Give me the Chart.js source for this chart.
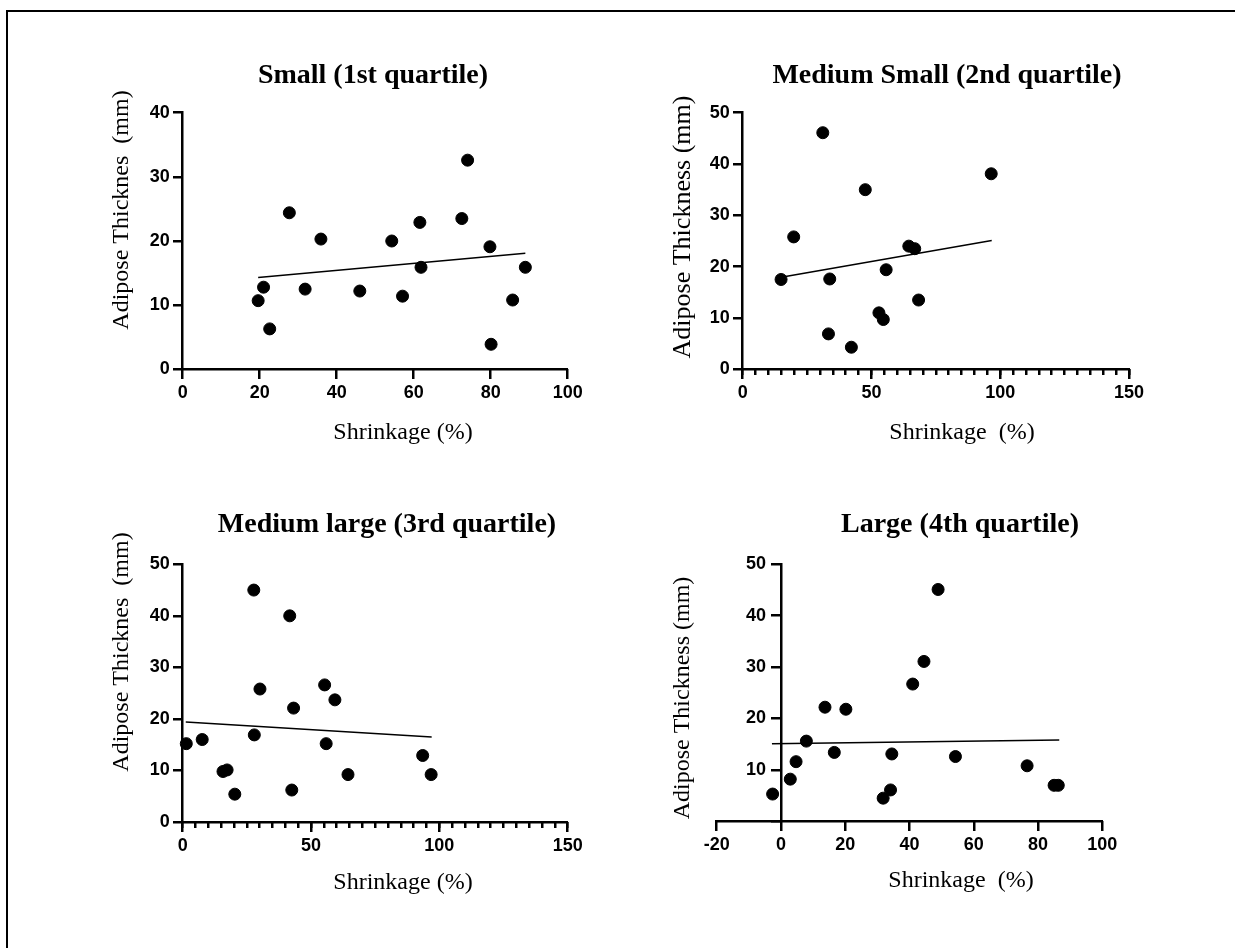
<!DOCTYPE html>
<html>
<head>
<meta charset="utf-8">
<script src="https://cdn.jsdelivr.net/npm/chart.js@4.4.1/dist/chart.umd.min.js"></script>
<style>
  html, body { margin: 0; padding: 0; background: #fff; }
  #page { position: relative; width: 1235px; height: 948px; overflow: hidden; background: #fff; }
  #frame { position: absolute; left: 6px; top: 10px; width: 1240px; height: 950px; border-top: 2px solid #000; border-left: 2px solid #000; }
  #page canvas { position: absolute; left: 0; top: 0; }
</style>
</head>
<body>
<div id="page">
  <div id="frame"></div>
  <canvas id="q1" width="1235" height="948"></canvas>
  <canvas id="q2" width="1235" height="948"></canvas>
  <canvas id="q3" width="1235" height="948"></canvas>
  <canvas id="q4" width="1235" height="948"></canvas>
</div>
<script>
// Small (1st quartile)
const smallX = [19.6, 21.0, 22.6, 27.7, 31.8, 35.9, 46.0, 54.3, 57.1, 61.6, 61.9, 72.5, 74.0, 79.8, 80.1, 85.7, 89.0]
const smallY = [10.7, 12.8, 6.3, 24.4, 12.5, 20.3, 12.2, 20.0, 11.4, 22.9, 15.9, 23.5, 32.6, 19.1, 3.9, 10.8, 15.9]
const smallFitX = [19.6, 89.0]
const smallFitY = [14.3, 18.1]

// Medium Small (2nd quartile)
const medSmallX = [14.9, 19.8, 31.1, 33.8, 33.3, 42.2, 47.6, 52.9, 54.6, 55.7, 64.5, 66.8, 68.3, 96.5]
const medSmallY = [17.5, 25.8, 46.1, 17.6, 6.9, 4.3, 35.0, 11.0, 9.7, 19.4, 24.0, 23.5, 13.5, 38.1]
const medSmallFitX = [15.5, 96.7]
const medSmallFitY = [18.0, 25.1]

// Medium large (3rd quartile)
const medLargeX = [1.4, 7.6, 15.7, 17.3, 20.3, 27.7, 27.9, 30.1, 41.7, 42.5, 43.2, 55.3, 55.9, 59.3, 64.4, 93.5, 96.8]
const medLargeY = [15.2, 16.0, 9.8, 10.1, 5.4, 45.0, 16.9, 25.8, 40.0, 6.2, 22.1, 26.6, 15.2, 23.7, 9.2, 12.9, 9.2]
const medLargeFitX = [1.2, 97.0]
const medLargeFitY = [19.4, 16.5]

// Large (4th quartile)
const largeX = [-2.6, 2.9, 4.7, 7.9, 13.7, 16.6, 20.2, 31.8, 34.1, 34.5, 41.0, 44.5, 48.9, 54.3, 76.6, 85.0, 86.3]
const largeY = [5.3, 8.2, 11.6, 15.6, 22.2, 13.4, 21.8, 4.5, 6.1, 13.1, 26.7, 31.1, 45.1, 12.6, 10.8, 7.0, 7.0]
const largeFitX = [-2.8, 86.6]
const largeFitY = [15.1, 15.8]

const W = 1235
const H = 948
const Y_W = 40
const X_H = 40
const TICK_LEN = 10
const SERIF = '"Liberation Serif", "Times New Roman", serif'
const TICK_FONT = { family: '"Liberation Sans", Arial, sans-serif', size: 18, weight: 'bold' }

const toPoints = (xs, ys) => xs.map((x, i) => ({ x, y: ys[i] }))

const panelText = {
  id: 'panelText',
  afterDraw: (chart, args, opts) => {
    const { ctx } = chart
    ctx.save()
    ctx.fillStyle = '#000'
    ctx.textAlign = 'center'
    ctx.textBaseline = 'middle'
    ctx.font = 'bold 28px ' + SERIF
    ctx.fillText(opts.title, opts.titleAt[0], opts.titleAt[1])
    ctx.font = '24px ' + SERIF
    ctx.fillText(opts.xTitle, opts.xTitleAt[0], opts.xTitleAt[1])
    ctx.translate(opts.yTitleAt[0], opts.yTitleAt[1])
    ctx.rotate(-Math.PI / 2)
    ctx.font = (opts.yTitleSize || 24) + 'px ' + SERIF
    ctx.fillText(opts.yTitle, 0, 0)
    ctx.restore()
  }
}

// tick marks only: an axis pinned to the other axis' value, no line, no labels
const tickAxis = (axis, pin, min, max, step, len) => ({
  type: 'linear',
  axis,
  position: pin,
  min,
  max,
  ticks: { stepSize: step, autoSkip: false, display: false },
  grid: { display: true, drawOnChartArea: false, drawTicks: true, tickLength: len, color: '#000', lineWidth: 2.5 },
  border: { display: false }
})

function makePanel (id, p) {
  const yAtZero = p.yAxisAtZero
  const padLeft = p.area.left - (yAtZero ? 0 : Y_W)
  const noGrid = { display: false, drawTicks: true, tickLength: TICK_LEN }
  const axisLine = { display: true, color: '#000', width: 2.5 }

  const scales = {
    x: {
      type: 'linear',
      position: 'bottom',
      min: p.xMin,
      max: p.xMax,
      afterFit: (s) => { s.height = X_H },
      ticks: {
        stepSize: p.xStep,
        autoSkip: false,
        maxRotation: 0,
        padding: 3,
        color: '#000',
        font: TICK_FONT
      },
      grid: noGrid,
      border: axisLine
    },
    y: {
      type: 'linear',
      position: yAtZero ? { x: 0 } : 'left',
      min: 0,
      max: p.yMax,
      afterFit: (s) => { s.width = Y_W },
      ticks: {
        stepSize: 10,
        padding: 3,
        color: '#000',
        font: TICK_FONT,
        // an axis pinned at x = 0 puts its labels on the line, so pad them with spaces
        callback: (v) => yAtZero ? (v === 0 ? '' : v + '   ') : String(v)
      },
      grid: noGrid,
      border: axisLine
    },
    xTicks: tickAxis('x', { y: 0 }, p.xMin, p.xMax, p.xStep, TICK_LEN),
    yTicks: tickAxis('y', { x: yAtZero ? 0 : p.xMin }, 0, p.yMax, 10, TICK_LEN)
  }

  if (p.xMinorStep) {
    scales.xMinor = tickAxis('x', { y: 0 }, p.xMin, p.xMax, p.xMinorStep, 6)
  }

  return new Chart(document.getElementById(id), {
    type: 'scatter',
    data: {
      datasets: [
        {
          data: toPoints(p.xs, p.ys),
          backgroundColor: '#000',
          borderColor: '#000',
          pointRadius: 6,
          pointHoverRadius: 6,
          clip: false
        },
        {
          data: toPoints(p.fitX, p.fitY),
          showLine: true,
          borderColor: '#000',
          borderWidth: 1.5,
          pointRadius: 0,
          pointHoverRadius: 0,
          fill: false,
          clip: false
        }
      ]
    },
    options: {
      responsive: false,
      animation: false,
      events: [],
      layout: {
        padding: {
          left: padLeft,
          top: p.area.top,
          right: W - p.area.right,
          bottom: H - p.area.bottom - X_H
        }
      },
      scales,
      plugins: {
        legend: { display: false },
        tooltip: { enabled: false },
        panelText: p.text
      }
    },
    plugins: [panelText]
  })
}

makePanel('q1', {
  xs: smallX, ys: smallY, fitX: smallFitX, fitY: smallFitY,
  xMin: 0, xMax: 100, xStep: 20, yMax: 40,
  area: { left: 182.7, right: 567.7, top: 112.7, bottom: 369.3 },
  text: {
    title: 'Small (1st quartile)', titleAt: [373, 76],
    xTitle: 'Shrinkage (%)', xTitleAt: [403, 433],
    yTitle: 'Adipose Thicknes  (mm)', yTitleAt: [122, 210]
  }
})

makePanel('q2', {
  xs: medSmallX, ys: medSmallY, fitX: medSmallFitX, fitY: medSmallFitY,
  xMin: 0, xMax: 150, xStep: 50, xMinorStep: 5, yMax: 50,
  area: { left: 742.7, right: 1129, top: 112.7, bottom: 369.3 },
  text: {
    title: 'Medium Small (2nd quartile)', titleAt: [947, 76],
    xTitle: 'Shrinkage  (%)', xTitleAt: [962, 433],
    yTitle: 'Adipose Thickness (mm)', yTitleAt: [683, 227], yTitleSize: 26
  }
})

makePanel('q3', {
  xs: medLargeX, ys: medLargeY, fitX: medLargeFitX, fitY: medLargeFitY,
  xMin: 0, xMax: 150, xStep: 50, xMinorStep: 5, yMax: 50,
  area: { left: 182.7, right: 567.7, top: 564.3, bottom: 822 },
  text: {
    title: 'Medium large (3rd quartile)', titleAt: [387, 525],
    xTitle: 'Shrinkage (%)', xTitleAt: [403, 883],
    yTitle: 'Adipose Thicknes  (mm)', yTitleAt: [122, 652]
  }
})

makePanel('q4', {
  xs: largeX, ys: largeY, fitX: largeFitX, fitY: largeFitY,
  xMin: -20, xMax: 100, xStep: 20, yMax: 50, yAxisAtZero: true,
  area: { left: 716.7, right: 1102.3, top: 564.3, bottom: 821.3 },
  text: {
    title: 'Large (4th quartile)', titleAt: [960, 525],
    xTitle: 'Shrinkage  (%)', xTitleAt: [961, 881],
    yTitle: 'Adipose Thickness (mm)', yTitleAt: [683, 698]
  }
})
</script>
</body>
</html>
